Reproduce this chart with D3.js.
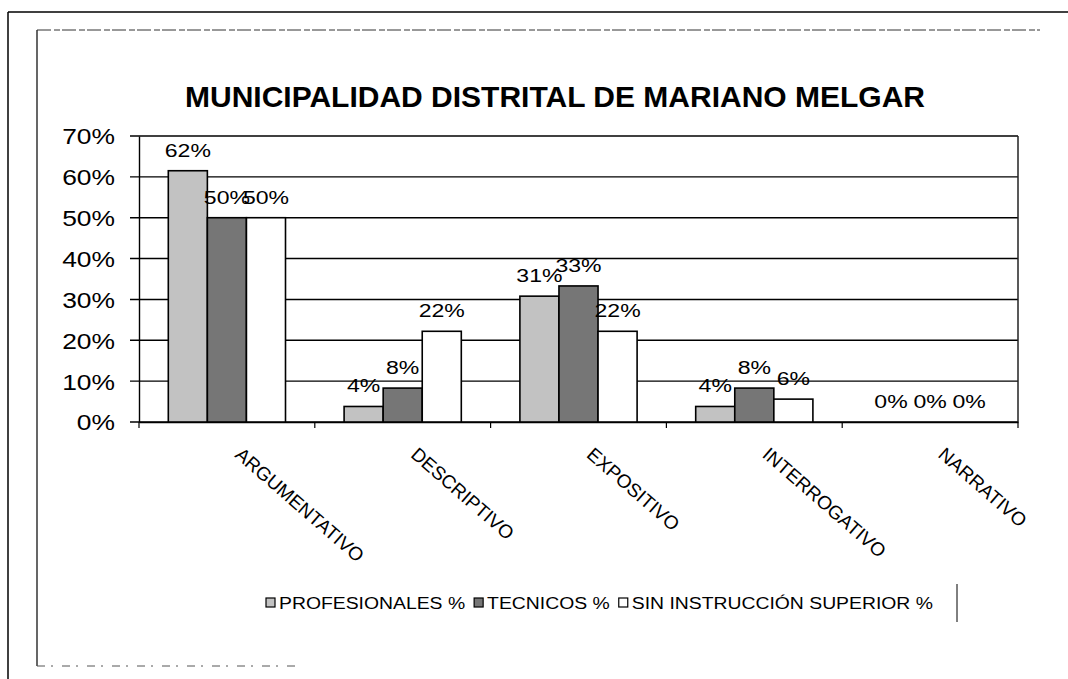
<!DOCTYPE html>
<html>
<head>
<meta charset="utf-8">
<script src="https://cdn.jsdelivr.net/npm/d3@7"></script>
<style>
  body { margin: 0; background: #fff; }
  text { font-family: "Liberation Sans", Arial, sans-serif; fill: #000; }
</style>
</head>
<body>
<svg id="chart" width="1068" height="679"></svg>
<script>
// datos (porcentajes)
const categories = ['ARGUMENTATIVO', 'DESCRIPTIVO', 'EXPOSITIVO', 'INTERROGATIVO', 'NARRATIVO'];
const seriesNames = ['PROFESIONALES %', 'TECNICOS %', 'SIN INSTRUCCIÓN SUPERIOR %'];
const profesionales = [61.5, 3.8, 30.8, 3.8, 0];
const tecnicos = [50, 8.3, 33.3, 8.3, 0];
const sinInstruccion = [50, 22.2, 22.2, 5.6, 0];
const yTicks = [0, 10, 20, 30, 40, 50, 60, 70];

const seriesValues = [profesionales, tecnicos, sinInstruccion];
const fills = ['#c2c2c2', '#767676', '#ffffff'];

const svg = d3.select('#chart');
const plot = {left: 139, right: 1018, top: 136, bottom: 422};

// estira el texto en horizontal, como en el escaneo
function stretch(sel, k) {
  sel.each(function () {
    const w = this.getComputedTextLength();
    this.setAttribute('textLength', w * k);
    this.setAttribute('lengthAdjust', 'spacingAndGlyphs');
  });
}

// marcos exteriores
svg.append('line').attr('x1', 8).attr('x2', 8).attr('y1', 12).attr('y2', 679)
  .attr('stroke', '#000').attr('stroke-width', 1.5);
svg.append('line').attr('x1', 8).attr('x2', 1068).attr('y1', 12).attr('y2', 12)
  .attr('stroke', '#000').attr('stroke-width', 1.5);
svg.append('line').attr('x1', 37).attr('x2', 37).attr('y1', 30).attr('y2', 666)
  .attr('stroke', '#000').attr('stroke-width', 1.2);
svg.append('line').attr('x1', 37).attr('x2', 1040).attr('y1', 30).attr('y2', 30)
  .attr('stroke', '#333').attr('stroke-width', 1).attr('stroke-dasharray', '14 3 6 2');
svg.append('line').attr('x1', 37).attr('x2', 300).attr('y1', 666).attr('y2', 666)
  .attr('stroke', '#555').attr('stroke-width', 1).attr('stroke-dasharray', '8 6 2 9');

// titulo
svg.append('text')
  .attr('x', 555).attr('y', 107)
  .attr('text-anchor', 'middle')
  .style('font-size', '30px').style('font-weight', 'bold')
  .text('MUNICIPALIDAD DISTRITAL DE MARIANO MELGAR');

const x0 = d3.scaleBand().domain(categories).range([plot.left, plot.right]).paddingInner(0);
const bw = x0.bandwidth();
const x1 = d3.scaleBand().domain(d3.range(seriesNames.length)).range([bw / 6, bw * 5 / 6]);
const y = d3.scaleLinear().domain([0, 70]).range([plot.bottom, plot.top]);

// lineas de division
svg.append('g').selectAll('line').data(yTicks).join('line')
  .attr('x1', plot.left - 9).attr('x2', plot.right)
  .attr('y1', d => y(d)).attr('y2', d => y(d))
  .attr('stroke', '#000').attr('stroke-width', 1.4);

// borde derecho del area
svg.append('line').attr('x1', plot.right).attr('x2', plot.right)
  .attr('y1', plot.top).attr('y2', plot.bottom)
  .attr('stroke', '#222').attr('stroke-width', 1.5);

// eje y
const yAxis = d3.axisLeft(y).tickValues(yTicks).tickSize(0).tickPadding(24)
  .tickFormat(d => d + '%');
const gy = svg.append('g').attr('transform', `translate(${plot.left},0)`).call(yAxis);
gy.select('.domain').attr('stroke', '#000').attr('stroke-width', 1.4);
gy.selectAll('text').style('font-size', '22px').attr('dy', '0.36em').call(stretch, 1.2);

// eje x
const xAxis = d3.axisBottom(x0).tickSize(0).tickFormat('');
const gx = svg.append('g').attr('transform', `translate(0,${plot.bottom})`).call(xAxis);
gx.select('.domain').attr('stroke', '#000').attr('stroke-width', 1.4);
svg.append('g').selectAll('line').data(d3.range(categories.length + 1)).join('line')
  .attr('x1', i => plot.left + i * bw).attr('x2', i => plot.left + i * bw)
  .attr('y1', plot.bottom).attr('y2', plot.bottom + 6)
  .attr('stroke', '#000').attr('stroke-width', 1.2);

svg.append('g').selectAll('text').data(categories).join('text')
  .attr('transform', d => `translate(${x0(d) + bw / 2 + 16},${plot.bottom + 24}) rotate(41)`)
  .attr('dy', '0.72em')
  .style('font-size', '19px')
  .text(d => d);

// barras
const groups = svg.append('g').selectAll('g').data(categories).join('g')
  .attr('transform', d => `translate(${x0(d)},0)`);

groups.selectAll('rect')
  .data((d, ci) => seriesValues.map((vals, si) => ({si, v: vals[ci]})))
  .join('rect')
  .attr('x', d => x1(d.si))
  .attr('width', x1.bandwidth())
  .attr('y', d => y(d.v))
  .attr('height', d => y(0) - y(d.v))
  .attr('fill', d => fills[d.si])
  .attr('stroke', '#000').attr('stroke-width', 1.6);

groups.selectAll('text.lbl')
  .data((d, ci) => seriesValues.map((vals, si) => ({si, v: vals[ci]})))
  .join('text')
  .attr('class', 'lbl')
  .attr('x', d => x1(d.si) + x1.bandwidth() / 2)
  .attr('y', d => y(d.v) - 14)
  .attr('text-anchor', 'middle')
  .style('font-size', '18px')
  .text(d => Math.round(d.v) + '%')
  .call(stretch, 1.28);

// leyenda
const legend = svg.append('g').attr('transform', 'translate(266,603)');
let lx = 0;
seriesNames.forEach((name, i) => {
  legend.append('rect').attr('x', lx).attr('y', -5).attr('width', 9).attr('height', 9)
    .attr('fill', fills[i]).attr('stroke', '#000').attr('stroke-width', 1.2);
  const t = legend.append('text').attr('x', lx + 13).attr('y', 6)
    .style('font-size', '16px').text(name);
  const w = t.node().getComputedTextLength() * 1.21;
  t.attr('textLength', w).attr('lengthAdjust', 'spacingAndGlyphs');
  lx += 13 + w + 9;
});
svg.append('line').attr('x1', 957).attr('x2', 957).attr('y1', 584).attr('y2', 622)
  .attr('stroke', '#000').attr('stroke-width', 1);
</script>
</body>
</html>
